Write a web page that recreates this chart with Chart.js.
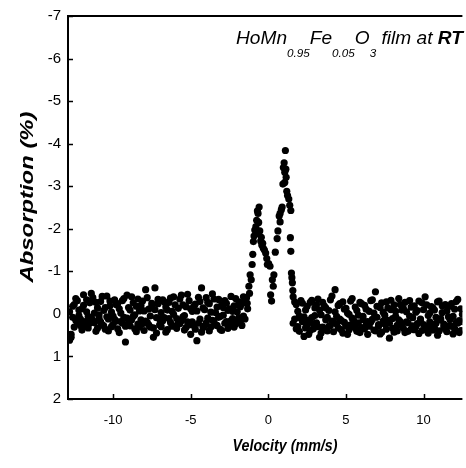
<!DOCTYPE html>
<html>
<head>
<meta charset="utf-8">
<script src="https://cdn.jsdelivr.net/npm/chart.js@4.4.0/dist/chart.umd.min.js"></script>
<style>
  html, body { margin: 0; padding: 0; background: #fff; }
  #wrap { width: 466px; height: 468px; }
</style>
</head>
<body>
<div id="wrap"><canvas id="graphSpectre" width="466" height="468"></canvas></div>
<script>
// Baseline left of the doublet (mm/s, %) - two halves of the spectrum
const leftVelocity = [
  -12.8,-12.7,-12.6,-12.5,-12.4,-12.3,-12.2,-12.1,-12.0,-11.9,
  -11.8,-11.7,-11.6,-11.5,-11.4,-11.3,-11.2,-11.1,-11.0,-10.9,
  -10.8,-10.7,-10.6,-10.5,-10.4,-10.3,-10.2,-10.1,-10.0,-9.9,
  -9.8,-9.7,-9.6,-9.5,-9.4,-9.3,-9.2,-9.1,-9.0,-8.9,
  -8.8,-8.7,-8.6,-8.5,-8.4,-8.3,-8.2,-8.1,-8.0,-7.9,
  -7.8,-7.7,-7.6,-7.5,-7.4,-7.3,-7.2,-7.1,-7.0,-6.9,
  -6.8,-6.7,-6.6,-6.5,-6.4,-6.3,-6.2,-6.1,-6.0,-5.9,
  -5.8,-5.7,-5.6,-5.5,-5.4,-5.3,-5.2,-5.1,-5.0,-4.9,
  -4.8,-4.7,-4.6,-4.5,-4.4,-4.3,-4.2,-4.1,-4.0,-3.9,
  -3.8,-3.7,-3.6,-3.5,-3.4,-3.3,-3.2,-3.1,-3.0,-2.9,
  -2.8,-2.7,-2.6,-2.5,-2.4,-2.3,-2.2,-2.1,-2.0,-1.9,
  -1.8,-1.7,-1.6,-1.5
];
const leftAbsorptionA = [
  0.62,0.55,0.08,-0.22,0.15,-0.31,0.04,0.27,-0.12,-0.45,
  0.18,-0.05,0.33,-0.26,0.09,-0.38,0.21,0.41,-0.14,0.02,
  -0.29,0.25,-0.08,0.36,-0.42,0.12,-0.19,0.30,0.05,-0.33,
  0.17,-0.24,0.44,-0.02,0.22,-0.36,0.66,0.10,-0.15,0.28,
  -0.40,0.06,0.35,-0.18,0.24,-0.07,0.14,-0.30,0.39,-0.57,
  0.20,-0.11,0.31,-0.25,0.55,-0.61,0.09,-0.34,0.26,-0.03,
  0.16,-0.28,0.43,-0.09,0.11,-0.37,0.29,0.01,-0.21,0.34,
  -0.13,0.23,-0.44,0.07,0.38,-0.17,0.19,-0.31,0.48,-0.06,
  0.27,-0.23,0.63,-0.39,0.12,-0.61,0.32,-0.10,0.21,-0.27,
  0.40,-0.04,0.15,-0.35,0.26,-0.16,0.08,0.36,-0.22,0.03,
  -0.31,0.18,-0.08,0.29,-0.41,0.11,-0.19,0.24,-0.05,-0.28,
  0.14,-0.24,0.05,-0.32
];
const leftAbsorptionB = [
  -0.05,0.48,-0.18,0.31,-0.36,0.20,-0.09,0.12,0.38,-0.20,
  0.27,-0.33,0.06,0.22,-0.48,0.15,-0.02,-0.27,0.34,0.10,
  0.19,-0.41,0.28,-0.15,0.07,0.40,-0.30,-0.04,0.25,0.13,
  -0.22,0.35,-0.12,0.18,-0.31,0.08,0.29,-0.44,0.21,-0.09,
  0.14,-0.26,0.02,0.42,-0.35,0.31,-0.20,0.23,-0.07,0.17,
  -0.38,0.26,0.05,-0.19,0.33,-0.10,0.45,-0.24,0.12,0.30,
  -0.33,0.09,-0.16,0.37,-0.27,0.20,-0.06,-0.40,0.28,0.11,
  0.24,-0.35,0.16,-0.21,0.04,0.32,-0.46,0.26,-0.12,0.19,
  -0.18,0.36,-0.07,0.22,-0.29,0.43,-0.14,0.28,-0.38,0.10,
  -0.24,0.31,-0.47,0.17,-0.03,0.27,-0.34,0.06,0.39,-0.15,
  0.22,-0.25,0.34,-0.12,0.16,-0.06,0.31,-0.36,0.20,0.09,
  -0.17,0.27,-0.40,0.12
];

// Doublet region
const peakVelocity = [
  -1.40,-1.36,-1.33,-1.25,-1.21,-1.17,-1.10,-1.04,-1.00,-0.96,
  -0.92,-0.87,-0.80,-0.75,-0.70,-0.66,-0.66,-0.62,-0.59,-0.55,
  -0.49,-0.45,-0.42,-0.36,-0.32,-0.25,-0.17,-0.10,-0.06,0.02,
  0.11,0.15,0.21,0.26,0.32,0.36,0.45,0.57,0.62,0.70,
  0.76,0.76,0.84,0.89,0.94,0.97,1.02,1.06,1.06,1.10,
  1.13,1.15,1.19,1.24,1.32,1.38,1.42,1.45,1.45,1.49,
  1.52,1.55,1.58
];
const peakAbsorption = [
  -0.38,-0.25,-0.12,-0.65,-0.48,-0.92,-0.80,-1.16,-1.40,-1.70,
  -1.83,-1.97,-2.05,-2.20,-2.42,-2.36,-1.89,-2.15,-2.51,-1.95,
  -1.71,-1.80,-1.62,-1.66,-1.54,-1.50,-1.43,-1.30,-1.16,-1.18,
  -1.12,-0.45,-0.30,-0.80,-0.65,-0.92,-1.45,-1.77,-1.95,-2.30,
  -2.16,-2.36,-2.45,-2.51,-3.05,-3.44,-3.55,-3.33,-3.09,-3.84,
  -3.40,-3.21,-2.88,-2.78,-2.70,-2.55,-1.79,-2.43,-1.47,-0.96,
  -0.85,-0.73,-0.55
];

// Baseline right of the doublet
const rightVelocity = [
  1.6,1.7,1.8,1.9,2.0,2.1,2.2,2.3,2.4,2.5,
  2.6,2.7,2.8,2.9,3.0,3.1,3.2,3.3,3.4,3.5,
  3.6,3.7,3.8,3.9,4.0,4.1,4.2,4.3,4.4,4.5,
  4.6,4.7,4.8,4.9,5.0,5.1,5.2,5.3,5.4,5.5,
  5.6,5.7,5.8,5.9,6.0,6.1,6.2,6.3,6.4,6.5,
  6.6,6.7,6.8,6.9,7.0,7.1,7.2,7.3,7.4,7.5,
  7.6,7.7,7.8,7.9,8.0,8.1,8.2,8.3,8.4,8.5,
  8.6,8.7,8.8,8.9,9.0,9.1,9.2,9.3,9.4,9.5,
  9.6,9.7,9.8,9.9,10.0,10.1,10.2,10.3,10.4,10.5,
  10.6,10.7,10.8,10.9,11.0,11.1,11.2,11.3,11.4,11.5,
  11.6,11.7,11.8,11.9,12.0,12.1,12.2,12.3,12.4,12.5
];
const rightAbsorptionA = [
  -0.40,0.12,-0.22,0.30,0.05,-0.31,0.18,0.53,-0.09,0.26,
  0.48,-0.27,0.09,0.35,-0.14,0.21,-0.35,0.55,0.02,0.31,
  -0.19,0.14,0.40,-0.08,0.27,-0.42,0.19,-0.57,0.06,0.33,
  -0.24,0.16,0.45,-0.11,0.28,-0.02,0.37,-0.30,0.10,0.22,
  -0.16,0.41,0.03,-0.27,0.32,0.13,-0.20,0.26,0.48,-0.06,
  0.19,-0.33,0.38,-0.52,0.08,0.29,-0.15,0.43,-0.04,0.24,
  -0.28,0.15,0.57,-0.10,0.34,-0.21,0.06,0.40,-0.36,0.18,
  0.27,-0.13,0.44,-0.05,0.21,-0.31,0.36,0.09,-0.19,0.30,
  -0.08,0.46,0.12,-0.26,0.25,-0.40,0.33,0.04,0.19,-0.17,
  0.38,-0.09,0.22,0.50,-0.30,0.14,-0.03,0.31,-0.22,0.42,
  0.07,-0.18,0.29,0.47,-0.11,0.20,-0.34,0.16,0.39,0.01
];
const rightAbsorptionB = [
  0.22,-0.28,0.35,-0.06,0.41,0.10,-0.25,0.07,0.33,-0.18,
  0.15,0.39,-0.32,0.24,0.04,-0.21,0.30,-0.09,0.45,-0.27,
  0.36,-0.14,0.08,0.29,-0.33,0.17,0.42,-0.05,0.24,-0.20,
  0.12,0.37,-0.28,0.20,-0.13,0.48,0.01,0.26,-0.36,0.15,
  0.33,-0.08,0.21,0.44,-0.24,0.06,0.35,-0.11,0.18,0.29,
  -0.31,0.13,-0.02,0.40,-0.18,0.25,0.47,-0.26,0.17,0.03,
  0.36,-0.14,0.22,-0.32,0.11,0.43,-0.06,0.27,0.14,-0.22,
  -0.09,0.34,-0.27,0.19,0.41,0.05,-0.16,0.28,0.37,-0.04,
  0.23,-0.30,0.15,0.39,-0.10,0.30,-0.21,0.45,-0.02,0.26,
  -0.14,0.33,0.08,-0.28,0.40,0.11,-0.19,0.24,0.36,-0.07,
  0.28,0.13,-0.24,0.06,0.35,-0.29,0.22,0.44,-0.12,0.18
];

const xTickValues = [-10, -5, 0, 5, 10];
const yTickValues = [-7, -6, -5, -4, -3, -2, -1, 0, 1, 2];

const toPoints = (vs, as) => vs.map((v, i) => ({ x: v, y: as[i] }));
const points = [].concat(
    toPoints(leftVelocity, leftAbsorptionA),
    toPoints(leftVelocity, leftAbsorptionB),
    toPoints(peakVelocity, peakAbsorption),
    toPoints(rightVelocity, rightAbsorptionA),
    toPoints(rightVelocity, rightAbsorptionB)
);

// axes, inside ticks and texts
const cadrePlugin = {
    id: 'cadre',
    afterDraw(chart) {
        const { ctx, chartArea: a, scales: { x, y } } = chart;
        ctx.save();
        ctx.strokeStyle = '#000';
        ctx.lineWidth = 2;
        ctx.beginPath();
        ctx.moveTo(a.right, a.top);
        ctx.lineTo(a.left, a.top);
        ctx.lineTo(a.left, a.bottom);
        ctx.lineTo(a.right, a.bottom);
        ctx.stroke();

        ctx.lineWidth = 1.5;
        ctx.beginPath();
        xTickValues.forEach(v => {
            const px = Math.round(x.getPixelForValue(v)) + 0.5;
            ctx.moveTo(px, a.bottom);
            ctx.lineTo(px, a.bottom - 5);
        });
        yTickValues.forEach(v => {
            const py = Math.round(y.getPixelForValue(v)) + 0.5;
            ctx.moveTo(a.left, py);
            ctx.lineTo(a.left + 5, py);
        });
        ctx.stroke();

        ctx.fillStyle = '#000';
        // Titre dans le graphique
        const parts = [
            { t: 'HoMn', sub: false }, { t: '0.95', sub: true },
            { t: 'Fe', sub: false }, { t: '0.05', sub: true },
            { t: 'O', sub: false }, { t: '3', sub: true },
            { t: ' film at ', sub: false }, { t: 'RT', sub: false, bold: true }
        ];
        const fontOf = p => (p.bold ? 'italic bold ' : 'italic ') + (p.sub ? '11px' : '18px') + ' "Liberation Sans", Arial, sans-serif';
        let total = 0;
        parts.forEach(p => { ctx.font = fontOf(p); total += ctx.measureText(p.t).width; });
        const x0 = 236, x1 = 463;
        const sx = (x1 - x0) / total;
        ctx.save();
        ctx.translate(x0, 0);
        ctx.scale(sx, 1);
        ctx.textBaseline = 'alphabetic';
        let cx = 0;
        parts.forEach(p => {
            ctx.font = fontOf(p);
            ctx.fillText(p.t, cx, p.sub ? 57 : 44);
            cx += ctx.measureText(p.t).width;
        });
        ctx.restore();

        // Titres des axes
        ctx.save();
        ctx.font = 'italic bold 17px "Liberation Sans", Arial, sans-serif';
        ctx.textAlign = 'center';
        ctx.textBaseline = 'middle';
        let w = ctx.measureText('Velocity (mm/s)').width;
        ctx.translate(285, 446);
        ctx.scale(105 / w, 1);
        ctx.fillText('Velocity (mm/s)', 0, 0);
        ctx.restore();

        ctx.save();
        ctx.font = 'italic bold 19px "Liberation Sans", Arial, sans-serif';
        ctx.textAlign = 'center';
        ctx.textBaseline = 'middle';
        w = ctx.measureText('Absorption (%)').width;
        ctx.translate(28, 197);
        ctx.rotate(-Math.PI / 2);
        ctx.scale(171 / w, 1);
        ctx.fillText('Absorption (%)', 0, 0);
        ctx.restore();

        ctx.restore();
    }
};

const ctxSpectre = document.getElementById('graphSpectre').getContext('2d');
const chartSpectre = new Chart(ctxSpectre, {
    type: 'scatter',
    data: {
        datasets: [{
            label: 'Absorption',
            data: points,
            backgroundColor: '#000',
            borderColor: '#000',
            borderWidth: 0,
            pointRadius: 3.6,
            pointHoverRadius: 3.6
        }]
    },
    options: {
        responsive: false,
        animation: false,
        devicePixelRatio: 1,
        layout: { padding: { top: 13, right: 0, bottom: 0, left: 0 } },
        plugins: { legend: { display: false }, tooltip: { enabled: false } },
        scales: {
            x: {
                type: 'linear',
                min: -12.9,
                max: 12.5,
                afterBuildTicks: s => { s.ticks = xTickValues.map(v => ({ value: v })); },
                afterFit: s => { s.height = 69; },
                grid: { display: false, drawTicks: false },
                border: { display: false },
                ticks: {
                    color: '#000',
                    padding: 14,
                    font: { family: '"Liberation Sans", Arial, sans-serif', size: 13 }
                }
            },
            y: {
                type: 'linear',
                reverse: true,
                min: -7,
                max: 2,
                afterBuildTicks: s => { s.ticks = yTickValues.map(v => ({ value: v })); },
                afterFit: s => { s.width = 68; },
                grid: { display: false, drawTicks: false },
                border: { display: false },
                ticks: {
                    color: '#000',
                    padding: 7,
                    font: { family: '"Liberation Sans", Arial, sans-serif', size: 15 }
                }
            }
        }
    },
    plugins: [cadrePlugin]
});
</script>
</body>
</html>
